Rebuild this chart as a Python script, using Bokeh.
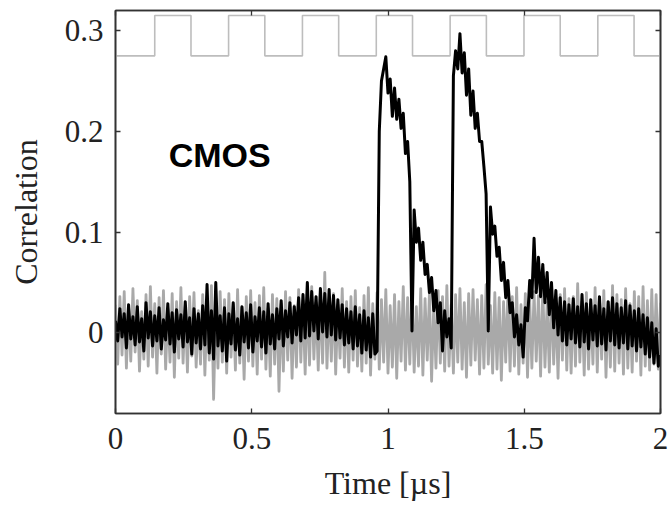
from bokeh.plotting import figure
from bokeh.models import LinearAxis, FixedTicker, CustomJSTickFormatter, Label
from bokeh.embed import file_html
from bokeh.resources import INLINE
import numpy as np

# ---------------- data ----------------
sample_dt = 0.008  # µs between samples

# gray trace (reference / off-state correlation), one value per sample
gray_corr = [
    0.028, -0.031, 0.036, -0.022, 0.041, -0.035, 0.025, -0.028, 0.044, -0.019,
    0.032, -0.038, 0.021, -0.026, 0.038, -0.033, 0.046, -0.024, 0.029, -0.040,
    0.035, -0.021, 0.042, -0.036, 0.024, -0.029, 0.039, -0.044, 0.031, -0.025,
    0.045, -0.030, 0.027, -0.039, 0.036, -0.023, 0.040, -0.034, 0.022, -0.031,
    0.038, -0.042, 0.030, -0.027, 0.047, -0.066, 0.026, -0.035, 0.041, -0.029,
    0.033, -0.040, 0.039, -0.024, 0.028, -0.037, 0.043, -0.030, 0.025, -0.046,
    0.036, -0.028, 0.042, -0.033, 0.030, -0.041, 0.037, -0.026, 0.045, -0.036,
    0.024, -0.043, 0.038, -0.031, 0.034, -0.058, 0.029, -0.038, 0.041, -0.027,
    0.035, -0.045, 0.027, -0.034, 0.043, -0.029, 0.032, -0.041, 0.038, -0.032,
    0.046, -0.026, 0.030, -0.037, 0.040, -0.030, 0.060, -0.035, 0.033, -0.028,
    0.039, -0.041, 0.028, -0.025, 0.044, -0.034, 0.031, -0.039, 0.036, -0.027,
    0.042, -0.033, 0.025, -0.038, 0.037, -0.030, 0.045, -0.042, 0.029, -0.026,
    0.040, -0.036, 0.033, -0.029, 0.043, -0.040, 0.027, -0.034, 0.038, -0.045,
    0.031, -0.028, 0.046, -0.037, 0.035, -0.031, 0.041, -0.039, 0.026, -0.033,
    0.044, -0.042, 0.034, -0.027, 0.039, -0.048, 0.029, -0.035, 0.042, -0.030,
    0.036, -0.038, 0.047, -0.033, 0.028, -0.040, 0.038, -0.029, 0.044, -0.036,
    0.030, -0.044, 0.039, -0.032, 0.043, -0.027, 0.033, -0.041, 0.037, -0.035,
    0.048, -0.031, 0.027, -0.040, 0.040, -0.036, 0.035, -0.047, 0.031, -0.029,
    0.042, -0.038, 0.036, -0.033, 0.045, -0.041, 0.028, -0.030, 0.039, -0.044,
    0.033, -0.035, 0.041, -0.028, 0.037, -0.043, 0.046, -0.034, 0.030, -0.039,
    0.043, -0.031, 0.029, -0.045, 0.038, -0.027, 0.044, -0.037, 0.034, -0.040,
    0.036, -0.033, 0.049, -0.029, 0.031, -0.042, 0.040, -0.036, 0.027, -0.031,
    0.045, -0.039, 0.035, -0.026, 0.042, -0.044, 0.030, -0.034, 0.047, -0.038,
    0.038, -0.030, 0.033, -0.041, 0.044, -0.035, 0.029, -0.039, 0.041, -0.028,
    0.036, -0.042, 0.046, -0.033, 0.032, -0.037, 0.043, -0.031, 0.038, -0.036,
    0.030,
]

# black trace (CMOS correlation), one value per sample
cmos_corr = [
    0.012, -0.008, 0.024, -0.004, 0.019, -0.015, 0.028, -0.006, 0.016, -0.012,
    0.026, -0.009, 0.014, -0.018, 0.030, -0.005, 0.021, -0.013, 0.017, -0.008,
    0.025, -0.016, 0.013, -0.007, 0.029, -0.011, 0.020, -0.019, 0.023, -0.006,
    0.018, -0.014, 0.031, -0.009, 0.015, -0.021, 0.024, -0.010, 0.019, -0.016,
    0.027, -0.012, 0.048, -0.020, 0.022, -0.026, 0.050, -0.013, 0.017, -0.018,
    0.025, -0.028, 0.019, -0.011, 0.030, -0.017, 0.014, -0.022, 0.026, -0.009,
    0.020, -0.015, 0.028, -0.019, 0.016, -0.008, 0.025, -0.014, 0.021, -0.020,
    0.029, -0.011, 0.018, -0.016, 0.024, -0.006, 0.032, -0.013, 0.022, -0.004,
    0.030, -0.010, 0.026, -0.002, 0.035, -0.008, 0.038, -0.005, 0.050, -0.003,
    0.041, 0.002, 0.036, -0.006, 0.044, 0.001, 0.039, -0.004, 0.043, -0.002,
    0.037, -0.007, 0.033, -0.005, 0.028, -0.012, 0.024, -0.010, 0.021, -0.016,
    0.026, -0.013, 0.018, -0.020, 0.022, -0.017, 0.015, -0.024, 0.019, -0.021,
    -0.018, 0.200, 0.250, 0.262, 0.274, 0.238, 0.252, 0.215, 0.243, 0.212,
    0.232, 0.203, 0.218, 0.178, 0.190, 0.150, 0.002, 0.122, 0.090, 0.104,
    0.072, 0.090, 0.058, 0.068, 0.040, 0.055, 0.022, 0.042, 0.010, 0.030,
    -0.018, 0.022, -0.004, 0.014, -0.015, 0.255, 0.280, 0.262, 0.297, 0.258,
    0.278, 0.236, 0.262, 0.216, 0.240, 0.203, 0.218, 0.190, 0.190, 0.165,
    0.138, 0.002, 0.125, 0.098, 0.106, 0.076, 0.085, 0.052, 0.070, 0.035,
    0.052, 0.020, 0.030, -0.004, 0.018, -0.012, 0.008, -0.024, 0.025, 0.012,
    0.052, 0.035, 0.094, 0.040, 0.075, 0.036, 0.068, 0.030, 0.060, 0.018,
    0.050, 0.005, 0.042, -0.002, 0.035, -0.008, 0.031, -0.012, 0.028, -0.006,
    0.034, -0.010, 0.026, -0.014, 0.038, -0.009, 0.029, -0.016, 0.033, -0.007,
    0.027, -0.013, 0.036, -0.011, 0.024, -0.017, 0.031, -0.008, 0.035, -0.012,
    0.029, -0.015, 0.025, -0.010, 0.032, -0.016, 0.027, -0.013, 0.022, -0.018,
    0.024, -0.014, 0.018, -0.021, 0.015, -0.024, 0.010, -0.030, 0.004, -0.033,
    -0.022,
]

# square-wave modulation drawn at the top (edge times and levels)
square_t = [0.0, 0.144, 0.277, 0.415, 0.548, 0.686, 0.819, 0.957, 1.090,
            1.228, 1.361, 1.499, 1.632, 1.770, 1.903, 2.0]
square_v = [0.275, 0.315, 0.275, 0.315, 0.275, 0.315, 0.275, 0.315, 0.275,
            0.315, 0.275, 0.315, 0.275, 0.315, 0.275, 0.275]

x_ticks = [0, 0.5, 1, 1.5, 2]
y_ticks = [0, 0.1, 0.2, 0.3]
x_label = "Time [µs]"
y_label = "Correlation"
panel_label = "CMOS"

t_gray = np.arange(len(gray_corr)) * sample_dt
t_cmos = np.arange(len(cmos_corr)) * sample_dt

# ---------------- figure ----------------
p = figure(width=669, height=505, x_range=(0, 2), y_range=(-0.08, 0.32),
           output_backend="svg", toolbar_location=None,
           min_border_left=115, min_border_right=9,
           min_border_top=10, min_border_bottom=92)
p.background_fill_color = "white"
p.border_fill_color = "white"
p.grid.visible = False
p.outline_line_color = "#333333"
p.outline_line_width = 1.6

fmt = CustomJSTickFormatter(code="return tick.toString();")
blank_fmt = CustomJSTickFormatter(code="return '';")

def style(ax, ticks, show_labels):
    ax.ticker = FixedTicker(ticks=ticks)
    ax.major_tick_in = 5
    ax.major_tick_out = 0
    ax.minor_tick_line_color = None
    ax.axis_line_color = "#333333"
    ax.axis_line_width = 1.6
    ax.major_tick_line_color = "#333333"
    ax.major_tick_line_width = 1.3
    if show_labels:
        ax.formatter = fmt
        ax.major_label_text_font = "Liberation Serif"
        ax.major_label_text_font_size = "31px"
        ax.major_label_text_color = "#222222"
        ax.axis_label_text_font = "Liberation Serif"
        ax.axis_label_text_font_size = "32px"
        ax.axis_label_text_font_style = "normal"
        ax.axis_label_text_color = "#222222"
    else:
        ax.formatter = blank_fmt
        ax.major_label_text_font_size = "1px"
        ax.major_label_standoff = 0

xa = p.xaxis[0]
style(xa, x_ticks, True)
xa.axis_label = x_label
xa.major_label_standoff = 14
xa.axis_label_standoff = 13

ya = p.yaxis[0]
style(ya, y_ticks, True)
ya.axis_label = y_label
ya.major_label_standoff = 12
ya.axis_label_standoff = 18

top = LinearAxis()
style(top, x_ticks, False)
p.add_layout(top, "above")
right = LinearAxis()
style(right, y_ticks, False)
p.add_layout(right, "right")

p.step(square_t, square_v, mode="after", line_color="#bdbdbd", line_width=1.6)
p.line(t_gray, gray_corr, line_color="#a9a9a9", line_width=2.8, line_join="round")
p.line(t_cmos, cmos_corr, line_color="#000000", line_width=3.0, line_join="round")

p.add_layout(Label(x=0.195, y=0.177, text=panel_label, text_font="Liberation Sans",
                   text_font_size="34px", text_font_style="bold",
                   text_color="#000000", text_baseline="alphabetic"))

open("out.html", "w").write(file_html(p, INLINE))
